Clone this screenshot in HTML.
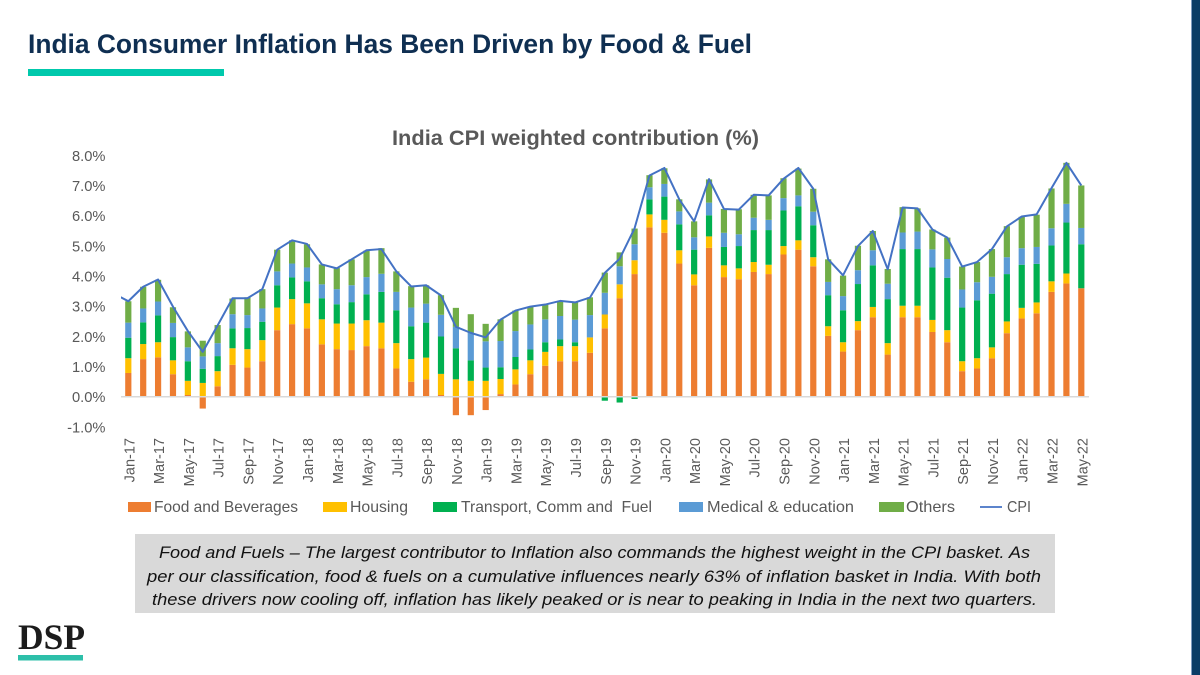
<!DOCTYPE html>
<html lang="en">
<head>
<meta charset="utf-8">
<title>India Consumer Inflation Has Been Driven by Food &amp; Fuel</title>
<style>
html,body{margin:0;padding:0;background:#fff;}
svg{display:block;font-family:"Liberation Sans",sans-serif;}
</style>
</head>
<body>
<svg id="slide" xmlns="http://www.w3.org/2000/svg" width="1200" height="675" viewBox="0 0 1200 675">
  <rect x="0" y="0" width="1200" height="675" fill="#ffffff"/>
  <rect x="1192" y="0" width="8" height="675" fill="#0b3d66"/>
  <rect x="1191" y="0" width="1" height="675" fill="#7f9cc0"/>
  <text x="28" y="53" font-size="27" font-weight="700" fill="#0f2f52" textLength="724" lengthAdjust="spacingAndGlyphs">India Consumer Inflation Has Been Driven by Food &amp; Fuel</text>
  <rect x="28" y="69" width="196" height="7" fill="#00c9ac"/>
  <text x="392" y="145" font-size="21" font-weight="700" fill="#595959" textLength="367" lengthAdjust="spacingAndGlyphs">India CPI weighted contribution (%)</text>
  <g id="y-axis"></g>
  <g id="bars"></g>
  <line id="zero-line" stroke="#d9d9d9" stroke-width="1.5"/>
  <clipPath id="plot-clip"><rect x="121" y="140" width="968" height="300"/></clipPath>
  <polyline id="cpi-line" fill="none" stroke="#4472c4" stroke-width="2" stroke-linejoin="round" clip-path="url(#plot-clip)"/>
  <g id="x-axis"></g>

  <g font-size="15.8" fill="#595959">
    <g>
      <rect x="128" y="502" width="23" height="10" fill="#ed7d31"/>
      <text x="154" y="512" textLength="144" lengthAdjust="spacingAndGlyphs">Food and Beverages</text>
    </g>
    <g>
      <rect x="323" y="502" width="24" height="10" fill="#ffc000"/>
      <text x="350" y="512" textLength="58" lengthAdjust="spacingAndGlyphs">Housing</text>
    </g>
    <g>
      <rect x="433" y="502" width="24" height="10" fill="#00b050"/>
      <text x="461" y="512" textLength="191" lengthAdjust="spacingAndGlyphs" xml:space="preserve">Transport, Comm and  Fuel</text>
    </g>
    <g>
      <rect x="679" y="502" width="24" height="10" fill="#5b9bd5"/>
      <text x="707" y="512" textLength="147" lengthAdjust="spacingAndGlyphs">Medical &amp; education</text>
    </g>
    <g>
      <rect x="879" y="502" width="25" height="10" fill="#70ad47"/>
      <text x="906" y="512" textLength="49" lengthAdjust="spacingAndGlyphs">Others</text>
    </g>
    <g>
      <line x1="980" y1="507" x2="1002" y2="507" stroke="#4472c4" stroke-width="1.8"/>
      <text x="1007" y="512" textLength="24" lengthAdjust="spacingAndGlyphs">CPI</text>
    </g>
  </g>

  <g>
    <rect x="135" y="534" width="920" height="79" fill="#d9d9d9"/>
    <g font-size="16.6" font-style="italic" fill="#111111">
      <text x="159" y="558" textLength="871" lengthAdjust="spacingAndGlyphs">Food and Fuels – The largest contributor to Inflation also commands the highest weight in the CPI basket. As</text>
      <text x="147" y="582" textLength="894" lengthAdjust="spacingAndGlyphs">per our classification, food &amp; fuels on a cumulative influences nearly 63% of inflation basket in India. With both</text>
      <text x="152" y="605" textLength="885" lengthAdjust="spacingAndGlyphs">these drivers now cooling off, inflation has likely peaked or is near to peaking in India in the next two quarters.</text>
    </g>
  </g>

  <text x="18" y="649" font-family="'Liberation Serif',serif" font-size="36" font-weight="700" fill="#1c1c1c" textLength="67" lengthAdjust="spacingAndGlyphs">DSP</text>
  <rect x="18" y="655" width="65" height="5.5" fill="#2dbfa9"/>
</svg>
<script>
var yTickValues = [8, 7, 6, 5, 4, 3, 2, 1, 0, -1];
var monthNames = ['Jan','Feb','Mar','Apr','May','Jun','Jul','Aug','Sep','Oct','Nov','Dec'];
var startYear = 17;
var food = [0.79,1.25,1.31,0.75,0.06,-0.39,0.35,1.06,0.97,1.18,2.21,2.41,2.27,1.74,1.58,1.55,1.68,1.61,0.94,0.50,0.58,0.06,-0.61,-0.61,-0.44,0.09,0.41,0.75,1.03,1.18,1.18,1.46,2.27,3.27,4.07,5.62,5.44,4.42,3.70,4.94,3.97,3.90,4.14,4.07,4.72,4.88,4.33,2.02,1.50,2.21,2.64,1.40,2.64,2.64,2.15,1.81,0.85,0.94,1.28,2.11,2.60,2.77,3.48,3.76,3.60];
var housing = [0.49,0.50,0.50,0.46,0.47,0.46,0.50,0.55,0.61,0.70,0.75,0.83,0.83,0.83,0.85,0.88,0.86,0.85,0.84,0.75,0.72,0.70,0.58,0.53,0.53,0.50,0.50,0.46,0.46,0.50,0.50,0.51,0.46,0.46,0.46,0.43,0.43,0.44,0.36,0.38,0.39,0.36,0.33,0.31,0.28,0.31,0.30,0.32,0.31,0.30,0.34,0.38,0.38,0.38,0.40,0.40,0.33,0.34,0.36,0.39,0.35,0.36,0.35,0.33,0];
var transport = [0.68,0.72,0.89,0.77,0.65,0.47,0.50,0.66,0.70,0.61,0.74,0.72,0.73,0.70,0.64,0.71,0.86,1.02,1.09,1.09,1.16,1.24,1.03,0.68,0.44,0.39,0.41,0.36,0.32,0.22,0.13,0,-0.13,-0.19,-0.07,0.50,0.77,0.86,0.82,0.70,0.61,0.74,1.06,1.15,1.18,1.13,1.06,1.03,1.06,1.23,1.38,1.46,1.88,1.88,1.74,1.74,1.78,1.92,1.78,1.57,1.43,1.28,1.19,1.69,1.46];
var medical = [0.50,0.46,0.46,0.47,0.46,0.41,0.43,0.47,0.43,0.44,0.46,0.46,0.46,0.46,0.50,0.56,0.57,0.60,0.61,0.62,0.63,0.72,0.71,0.91,0.87,0.87,0.86,0.83,0.76,0.78,0.75,0.74,0.72,0.60,0.53,0.40,0.42,0.43,0.41,0.42,0.47,0.39,0.41,0.34,0.41,0.36,0.45,0.44,0.47,0.46,0.50,0.51,0.55,0.58,0.60,0.62,0.60,0.60,0.56,0.56,0.55,0.56,0.57,0.62,0.54];
var others = [0.71,0.72,0.72,0.52,0.53,0.52,0.60,0.52,0.59,0.64,0.72,0.77,0.77,0.66,0.70,0.86,0.88,0.85,0.68,0.71,0.61,0.65,0.63,0.62,0.58,0.72,0.68,0.58,0.49,0.50,0.57,0.59,0.67,0.46,0.52,0.40,0.52,0.40,0.53,0.77,0.79,0.83,0.76,0.81,0.66,0.89,0.76,0.75,0.68,0.81,0.64,0.49,0.84,0.77,0.66,0.71,0.76,0.67,0.92,1.03,1.04,1.07,1.32,1.36,1.41];
var cpiDec16 = 3.43;
var cpi = [3.17,3.65,3.89,2.99,2.18,1.49,2.37,3.27,3.27,3.57,4.88,5.19,5.07,4.39,4.26,4.56,4.86,4.90,4.16,3.66,3.70,3.36,2.32,2.12,1.97,2.56,2.86,2.99,3.06,3.18,3.13,3.29,4.11,4.58,5.59,7.34,7.59,6.55,5.82,7.22,6.23,6.21,6.70,6.68,7.23,7.59,6.90,4.56,4.03,5.00,5.50,4.23,6.28,6.25,5.55,5.28,4.32,4.47,4.90,5.65,5.98,6.05,6.92,7.76,7.01];

var NS = 'http://www.w3.org/2000/svg';
function xPos(i) { return 128.3 + i * (953 / 64); }
function yPos(v) { return 396.8 - v * 30.15; }
function make(tag, attrs, parent) {
  var el = document.createElementNS(NS, tag);
  for (var k in attrs) el.setAttribute(k, attrs[k]);
  parent.appendChild(el);
  return el;
}
function monthLabel(i) {
  return monthNames[i % 12] + '-' + (startYear + Math.floor(i / 12));
}

var yAxisGroup = document.getElementById('y-axis');
yTickValues.forEach(function (v) {
  var t = make('text', {x: 105.5, y: yPos(v) + 5.3, 'text-anchor': 'end', 'font-size': 14.7, fill: '#595959'}, yAxisGroup);
  
  
  t.textContent = v.toFixed(1) + '%';
});

var seriesList = [
  {key: 'food', values: food, color: '#ed7d31'},
  {key: 'housing', values: housing, color: '#ffc000'},
  {key: 'transport', values: transport, color: '#00b050'},
  {key: 'medical', values: medical, color: '#5b9bd5'},
  {key: 'others', values: others, color: '#70ad47'}
];
var barGroup = document.getElementById('bars');
var barWidth = 6.2;
food.forEach(function (_, i) {
  var posTop = 0, negBottom = 0;
  seriesList.forEach(function (s) {
    var v = s.values[i];
    if (!v) return;
    var from, to;
    if (v > 0) { from = posTop; to = posTop + v; posTop = to; }
    else { from = negBottom; to = negBottom + v; negBottom = to; }
    var y1 = Math.min(yPos(from), yPos(to));
    var y2 = Math.max(yPos(from), yPos(to));
    var r = make('rect', {x: xPos(i) - barWidth / 2, y: y1, width: barWidth, height: y2 - y1, fill: s.color}, barGroup);
    
    
  });
});

var zero = document.getElementById('zero-line');
zero.setAttribute('x1', 121);
zero.setAttribute('x2', 1089);
zero.setAttribute('y1', yPos(0));
zero.setAttribute('y2', yPos(0));

var pts = [(xPos(-1)) + ',' + yPos(cpiDec16)];
cpi.forEach(function (v, i) { pts.push(xPos(i) + ',' + yPos(v)); });
document.getElementById('cpi-line').setAttribute('points', pts.join(' '));

var xAxisGroup = document.getElementById('x-axis');
food.forEach(function (_, i) {
  if (i % 2 !== 0) return;
  var px = xPos(i) + 6;
  var t = make('text', {x: 0, y: 0, transform: 'translate(' + px + ',438) rotate(-90)', 'text-anchor': 'end', 'font-size': 14.5, fill: '#595959'}, xAxisGroup);
  
  
  t.textContent = monthLabel(i);
});
</script>
</body>
</html>
